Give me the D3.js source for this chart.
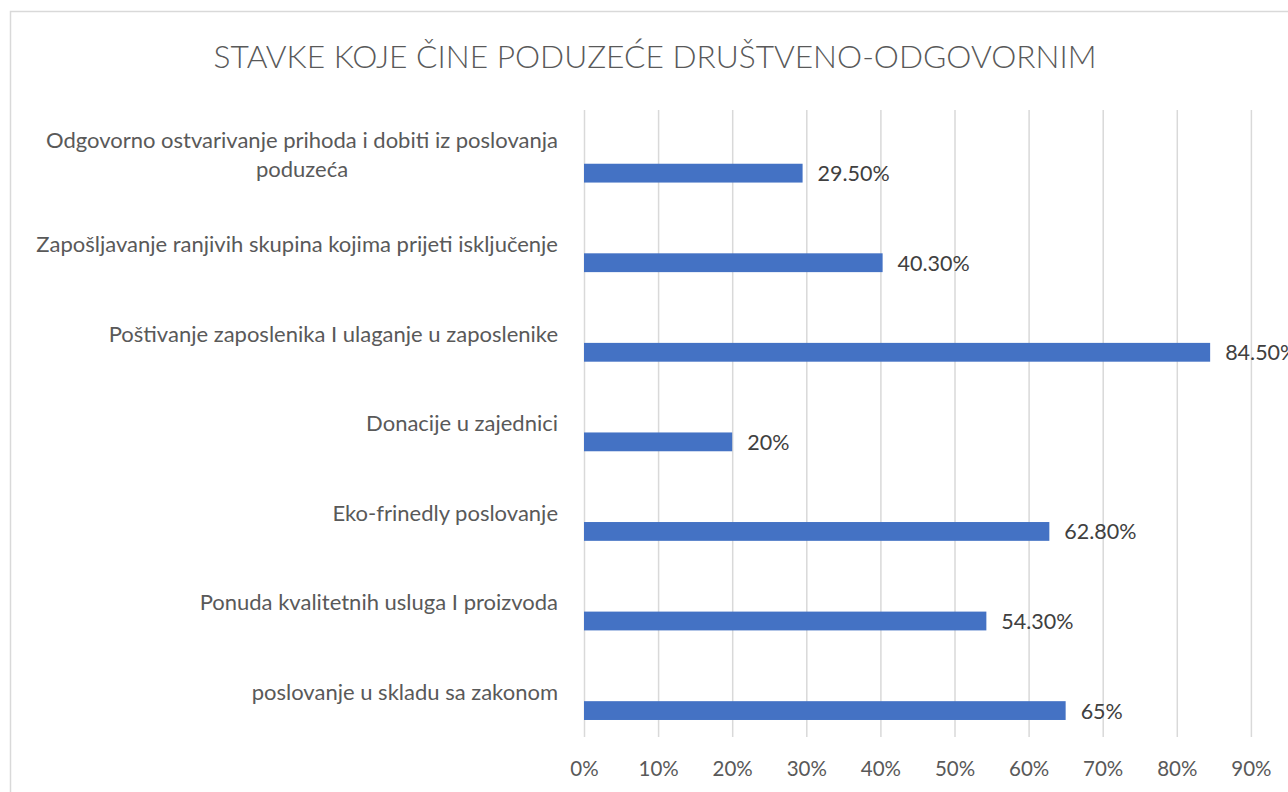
<!DOCTYPE html>
<html>
<head>
<meta charset="utf-8">
<script src="https://cdn.jsdelivr.net/npm/d3@7"></script>
<style>
  body { margin: 0; background: #fff; }
  svg { display: block; font-family: Lato, "Open Sans", sans-serif; }
</style>
</head>
<body>
<svg></svg>
<script>
const categories = [
  'Odgovorno ostvarivanje prihoda i dobiti iz poslovanja\npoduzeća',
  'Zapošljavanje ranjivih skupina kojima prijeti isključenje',
  'Poštivanje zaposlenika I ulaganje u zaposlenike',
  'Donacije u zajednici',
  'Eko-frinedly poslovanje',
  'Ponuda kvalitetnih usluga I proizvoda',
  'poslovanje u skladu sa zakonom'
]
const values = [29.5, 40.3, 84.5, 20, 62.8, 54.3, 65]
const valueLabels = ['29.50%', '40.30%', '84.50%', '20%', '62.80%', '54.30%', '65%']
const ticks = [0, 10, 20, 30, 40, 50, 60, 70, 80, 90]
const title = 'STAVKE KOJE ČINE PODUZEĆE DRUŠTVENO-ODGOVORNIM'

const width = 1288
const height = 792
const plot = {left: 584, right: 1325, top: 110, bottom: 737}

const svg = d3.select('svg')
  .attr('width', width)
  .attr('height', height)

// chart frame (cut off at the right and bottom like the screenshot)
svg.append('rect')
  .attr('x', 10.5).attr('y', 11.5)
  .attr('width', width + 20).attr('height', height + 20)
  .attr('fill', '#fff')
  .attr('stroke', '#d9d9d9')
  .attr('stroke-width', 1.5)

const xScale = d3.scaleLinear()
  .domain([0, 100])
  .range([plot.left, plot.right])

const yScale = d3.scaleBand()
  .domain(categories)
  .range([plot.top, plot.bottom])
  .padding(0)

// vertical grid lines + tick labels
const xAxis = svg.append('g')
  .attr('transform', `translate(0, ${plot.bottom})`)
  .call(d3.axisBottom(xScale)
    .tickValues(ticks)
    .tickSize(-(plot.bottom - plot.top))
    .tickPadding(24)
    .tickFormat(d => d + '%'))

xAxis.select('.domain').remove()
xAxis.selectAll('.tick line')
  .attr('stroke', '#d9d9d9')
  .attr('stroke-width', 1.5)
xAxis.selectAll('.tick text')
  .attr('fill', '#595959')
  .attr('font-size', '20.5px')
  .attr('font-family', 'Lato, sans-serif')

const bw = yScale.bandwidth()

// bars
svg.append('g')
  .selectAll('rect')
  .data(values)
  .join('rect')
  .attr('x', xScale(0))
  .attr('y', (d, i) => yScale(categories[i]) + bw * 0.6)
  .attr('height', bw * 0.21)
  .attr('width', d => xScale(d) - xScale(0))
  .attr('fill', '#4472c4')

// value labels
svg.append('g')
  .selectAll('text')
  .data(values)
  .join('text')
  .attr('x', d => xScale(d) + 15)
  .attr('y', (d, i) => yScale(categories[i]) + bw * 0.71)
  .attr('dy', '0.35em')
  .attr('fill', '#404040')
  .attr('font-size', '21.5px')
  .text((d, i) => valueLabels[i])

// category labels, multi-line ones centred on each other
const labelRight = 558
const lineH = 29
categories.forEach(c => {
  const lines = c.split('\n')
  const t = svg.append('text')
    .attr('fill', '#595959')
    .attr('font-size', '22px')
  const cy = yScale(c) + bw / 2 - (lines.length - 1) * lineH / 2
  lines.forEach((l, k) => {
    t.append('tspan')
      .attr('y', cy + k * lineH)
      .attr('dy', '0.35em')
      .text(l)
  })
  let w = 0
  t.selectAll('tspan').each(function() { w = Math.max(w, this.getComputedTextLength()) })
  t.attr('text-anchor', 'middle')
  t.selectAll('tspan').attr('x', labelRight - w / 2)
})

// title
svg.append('text')
  .attr('x', 655)
  .attr('y', 57)
  .attr('dy', '0.35em')
  .attr('text-anchor', 'middle')
  .attr('fill', '#595959')
  .attr('font-size', '31.7px')
  .attr('font-weight', 300)
  .text(title)
</script>
</body>
</html>
